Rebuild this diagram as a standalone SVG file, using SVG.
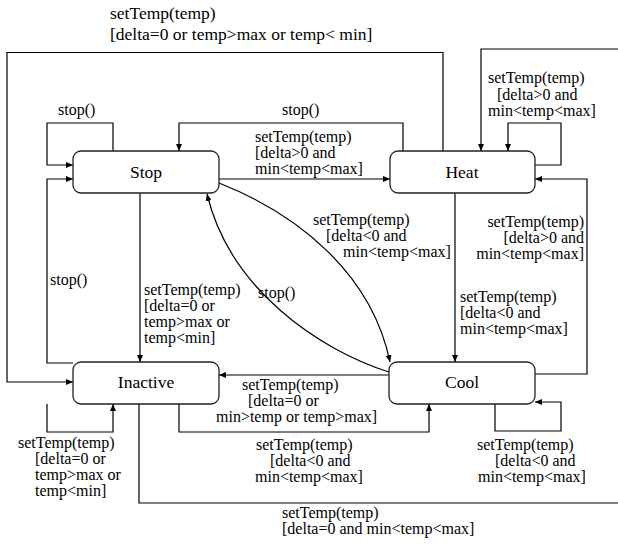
<svg xmlns="http://www.w3.org/2000/svg" width="618" height="544" viewBox="0 0 618 544">
<defs>
<marker id="a" markerWidth="8" markerHeight="6" refX="7" refY="3" orient="auto" markerUnits="userSpaceOnUse">
<path d="M0,0 L7,3 L0,6 z" fill="#000"/>
</marker>
</defs>
<g id="connectors" fill="none" stroke="#000" stroke-width="1.2">
<path marker-end="url(#a)" d="M443,151 V52.5 H7 V382 H73"/>
<path marker-end="url(#a)" d="M113,151 V123 H47 V165 H73"/>
<path marker-end="url(#a)" d="M73,363 H47 V179 H73"/>
<path marker-end="url(#a)" d="M403,151 V123 H179 V151"/>
<path marker-end="url(#a)" d="M219,179 H390"/>
<path marker-end="url(#a)" d="M618,49 H481 V151"/>
<path marker-end="url(#a)" d="M535,165 H561 V123 H508 V151"/>
<path marker-end="url(#a)" d="M455,193 V362"/>
<path marker-end="url(#a)" d="M535,374 H587 V179 H535"/>
<path marker-end="url(#a)" d="M219,183 C300,215 372,275 390,362"/>
<path marker-end="url(#a)" d="M389,372 C320,350 230,290 207,194"/>
<path marker-end="url(#a)" d="M140,193 V362"/>
<path marker-end="url(#a)" d="M389,375 H219"/>
<path marker-end="url(#a)" d="M179,404 V432 H429 V404"/>
<path marker-end="url(#a)" d="M47,404 V432 H113 V404"/>
<path marker-end="url(#a)" d="M495,404 V431 H561 V402 H535"/>
<path d="M139,404 V503 H618"/>
</g>
<g id="Stop"><rect x="73" y="151" width="146" height="42" rx="8" fill="#fff" stroke="#222" stroke-width="1.3"/><text font-family="Times New Roman" font-size="17.5" text-anchor="middle" x="146" y="178">Stop</text></g>
<g id="Heat"><rect x="390" y="151" width="145" height="42" rx="8" fill="#fff" stroke="#222" stroke-width="1.3"/><text font-family="Times New Roman" font-size="17.5" text-anchor="middle" x="462" y="178">Heat</text></g>
<g id="Inactive"><rect x="73" y="362" width="146" height="42" rx="8" fill="#fff" stroke="#222" stroke-width="1.3"/><text font-family="Times New Roman" font-size="17.5" text-anchor="middle" x="146" y="388">Inactive</text></g>
<g id="Cool"><rect x="389" y="362" width="146" height="42" rx="8" fill="#fff" stroke="#222" stroke-width="1.3"/><text font-family="Times New Roman" font-size="17.5" text-anchor="middle" x="462" y="388">Cool</text></g>
<g id="labels">
<text font-family="Times New Roman" font-size="17.5" x="110" y="19">setTemp(temp)</text>
<text font-family="Times New Roman" font-size="17.5" x="110" y="40">[delta=0 or temp&gt;max or temp&lt; min]</text>
<text font-family="Times New Roman" font-size="16" x="58" y="115">stop()</text>
<text font-family="Times New Roman" font-size="16" x="282" y="115">stop()</text>
<text font-family="Times New Roman" font-size="16" x="255" y="142">setTemp(temp)</text>
<text font-family="Times New Roman" font-size="16" x="255" y="158">[delta&gt;0 and</text>
<text font-family="Times New Roman" font-size="16" x="255" y="174">min&lt;temp&lt;max]</text>
<text font-family="Times New Roman" font-size="16" x="488" y="83">setTemp(temp)</text>
<text font-family="Times New Roman" font-size="16" x="497" y="100">[delta&gt;0 and</text>
<text font-family="Times New Roman" font-size="16" x="488" y="116">min&lt;temp&lt;max]</text>
<text font-family="Times New Roman" font-size="16" x="313" y="225">setTemp(temp)</text>
<text font-family="Times New Roman" font-size="16" x="326" y="241">[delta&lt;0 and</text>
<text font-family="Times New Roman" font-size="16" x="343" y="257">min&lt;temp&lt;max]</text>
<text font-family="Times New Roman" font-size="16" text-anchor="end" x="584" y="227">setTemp(temp)</text>
<text font-family="Times New Roman" font-size="16" text-anchor="end" x="584" y="243">[delta&gt;0 and</text>
<text font-family="Times New Roman" font-size="16" text-anchor="end" x="584" y="259">min&lt;temp&lt;max]</text>
<text font-family="Times New Roman" font-size="16" x="460" y="302">setTemp(temp)</text>
<text font-family="Times New Roman" font-size="16" x="460" y="318">[delta&lt;0 and</text>
<text font-family="Times New Roman" font-size="16" x="460" y="334">min&lt;temp&lt;max]</text>
<text font-family="Times New Roman" font-size="16" x="50" y="285">stop()</text>
<text font-family="Times New Roman" font-size="16" x="258" y="298">stop()</text>
<text font-family="Times New Roman" font-size="16" x="144" y="295">setTemp(temp)</text>
<text font-family="Times New Roman" font-size="16" x="144" y="311">[delta=0 or</text>
<text font-family="Times New Roman" font-size="16" x="144" y="327">temp&gt;max or</text>
<text font-family="Times New Roman" font-size="16" x="144" y="343">temp&lt;min]</text>
<text font-family="Times New Roman" font-size="16" x="242" y="390">setTemp(temp)</text>
<text font-family="Times New Roman" font-size="16" x="248" y="406">[delta=0 or</text>
<text font-family="Times New Roman" font-size="16" x="216" y="422">min&gt;temp or temp&gt;max]</text>
<text font-family="Times New Roman" font-size="16" x="256" y="450">setTemp(temp)</text>
<text font-family="Times New Roman" font-size="16" x="270" y="466">[delta&lt;0 and</text>
<text font-family="Times New Roman" font-size="16" x="255" y="482">min&lt;temp&lt;max]</text>
<text font-family="Times New Roman" font-size="16" x="18" y="448">setTemp(temp)</text>
<text font-family="Times New Roman" font-size="16" x="35" y="464">[delta=0 or</text>
<text font-family="Times New Roman" font-size="16" x="35" y="480">temp&gt;max or</text>
<text font-family="Times New Roman" font-size="16" x="35" y="496">temp&lt;min]</text>
<text font-family="Times New Roman" font-size="16" x="477" y="450">setTemp(temp)</text>
<text font-family="Times New Roman" font-size="16" x="495" y="466">[delta&lt;0 and</text>
<text font-family="Times New Roman" font-size="16" x="478" y="482">min&lt;temp&lt;max]</text>
<text font-family="Times New Roman" font-size="16" x="282" y="518">setTemp(temp)</text>
<text font-family="Times New Roman" font-size="16" x="282" y="534">[delta=0 and min&lt;temp&lt;max]</text>
</g>
</svg>
